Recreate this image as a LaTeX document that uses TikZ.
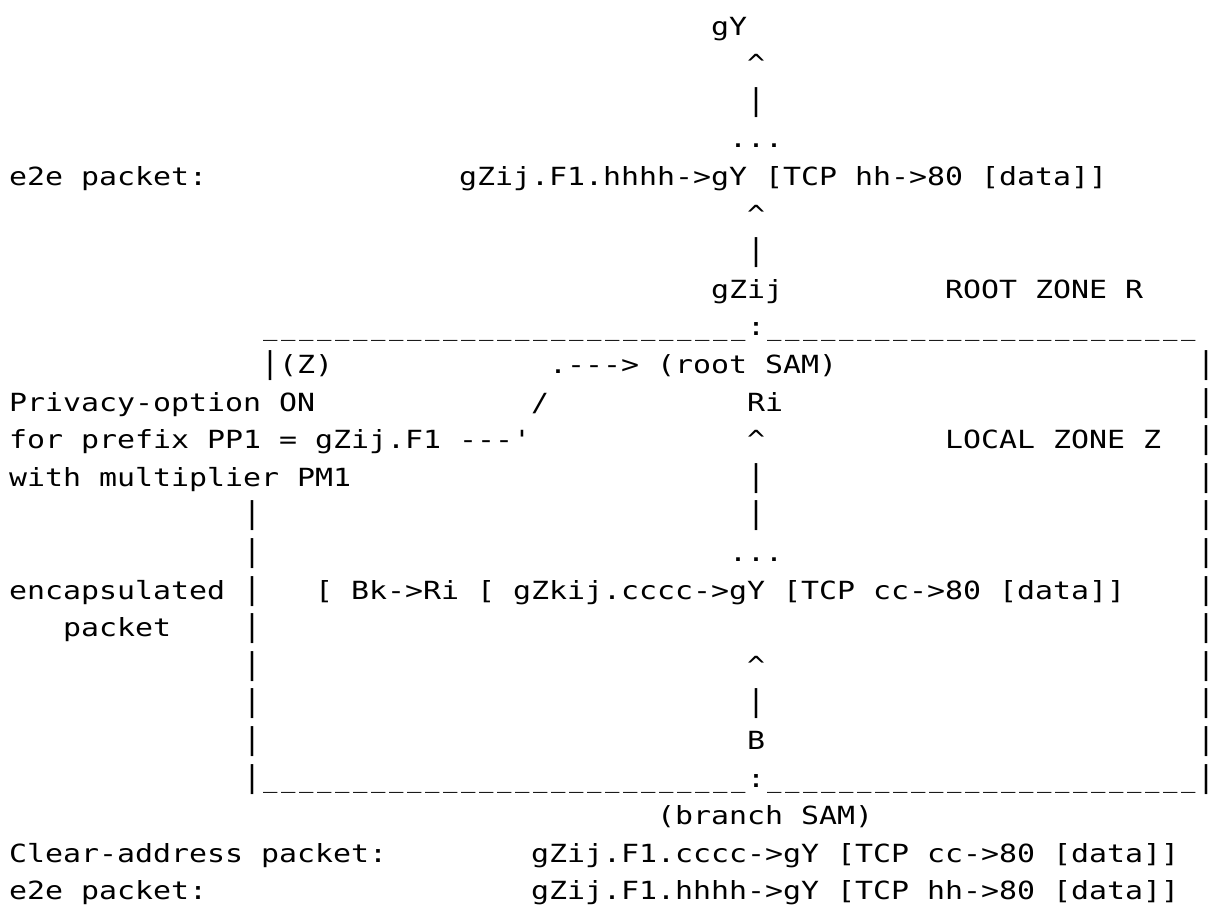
\documentclass[tikz,border=0pt]{standalone}
\usepackage{fontspec}
\usepackage{graphicx}
\newfontfamily\mono[FakeStretch=1.196,Ligatures=TeXOff]{DejaVu Sans Mono}
\newcommand{\caret}{\textasciicircum}
% one character cell is 18pt wide
\newcommand{\us}{\makebox[18pt][c]{\scalebox{0.8}[1]{\_}}}
\newcommand{\vb}{\scalebox{1}[1.2]{|}}
\newcommand{\usrun}[1]{\foreach \k in {1,...,#1}{\us}}
\begin{document}
\begin{tikzpicture}[x=18pt,y=-37.6pt,
  t/.style={font=\mono\fontsize{25}{30}\selectfont, anchor=base west, inner sep=0pt, text=black}]
\useasboundingbox[fill=white] (-0.5,0.0691) rectangle (66.889,24.271);

% path up to the destination
\node[t] (gy)     at (39,1) {gY};
\node[t] (up1)    at (41,2) {\caret};
\node[t] (bar1)   at (41,3) {\vb};
\node[t] (dots1)  at (40,4) {...};
\node[t] (e2eA)   at (0,5)  {e2e packet:};
\node[t] (pktA)   at (25,5) {gZij.F1.hhhh->gY [TCP hh->80 [data]]};
\node[t] (up2)    at (41,6) {\caret};
\node[t] (bar2)   at (41,7) {\vb};
\node[t] (gzij)   at (39,8) {gZij};
\node[t] (rootz)  at (52,8) {ROOT ZONE R};

% top edge of the local zone
\node[t] (topL)   at (14,9) {\usrun{27}};
\node[t] (topC)   at (41,9) {:};
\node[t] (topR)   at (42,9) {\usrun{24}};

% inside the local zone
\node[t] (zlab)   at (14,10) {\vb(Z)};
\node[t] (rsam)   at (30,10) {.---> (root SAM)};
\node[t] (rb10)   at (66,10) {\vb};
\node[t] (priv1)  at (0,11)  {Privacy-option ON};
\node[t] (slash)  at (29,11) {/};
\node[t] (ri)     at (41,11) {Ri};
\node[t] (rb11)   at (66,11) {\vb};
\node[t] (priv2)  at (0,12)  {for prefix PP1 = gZij.F1 ---'};
\node[t] (up3)    at (41,12) {\caret};
\node[t] (localz) at (52,12) {LOCAL ZONE Z};
\node[t] (rb12)   at (66,12) {\vb};
\node[t] (priv3)  at (0,13)  {with multiplier PM1};
\node[t] (bar3)   at (41,13) {\vb};
\node[t] (rb13)   at (66,13) {\vb};
\node[t] (lb14)   at (13,14) {\vb};
\node[t] (bar4)   at (41,14) {\vb};
\node[t] (rb14)   at (66,14) {\vb};
\node[t] (lb15)   at (13,15) {\vb};
\node[t] (dots2)  at (40,15) {...};
\node[t] (rb15)   at (66,15) {\vb};
\node[t] (encap)  at (0,16)  {encapsulated};
\node[t] (lb16)   at (13,16) {\vb};
\node[t] (pktE)   at (17,16) {[ Bk->Ri [ gZkij.cccc->gY [TCP cc->80 [data]]};
\node[t] (rb16)   at (66,16) {\vb};
\node[t] (encap2) at (3,17)  {packet};
\node[t] (lb17)   at (13,17) {\vb};
\node[t] (rb17)   at (66,17) {\vb};
\node[t] (lb18)   at (13,18) {\vb};
\node[t] (up4)    at (41,18) {\caret};
\node[t] (rb18)   at (66,18) {\vb};
\node[t] (lb19)   at (13,19) {\vb};
\node[t] (bar5)   at (41,19) {\vb};
\node[t] (rb19)   at (66,19) {\vb};
\node[t] (lb20)   at (13,20) {\vb};
\node[t] (bnode)  at (41,20) {B};
\node[t] (rb20)   at (66,20) {\vb};

% bottom edge of the local zone
\node[t] (botLb)  at (13,21) {\vb};
\node[t] (botL)   at (14,21) {\usrun{27}};
\node[t] (botC)   at (41,21) {:};
\node[t] (botR)   at (42,21) {\usrun{24}};
\node[t] (botRb)  at (66,21) {\vb};
\node[t] (bsam)   at (36,22) {(branch SAM)};

% packets leaving the branch SAM
\node[t] (clear)  at (0,23)  {Clear-address packet:};
\node[t] (pktC)   at (29,23) {gZij.F1.cccc->gY [TCP cc->80 [data]]};
\node[t] (e2eB)   at (0,24)  {e2e packet:};
\node[t] (pktB)   at (29,24) {gZij.F1.hhhh->gY [TCP hh->80 [data]]};
\end{tikzpicture}
\end{document}
